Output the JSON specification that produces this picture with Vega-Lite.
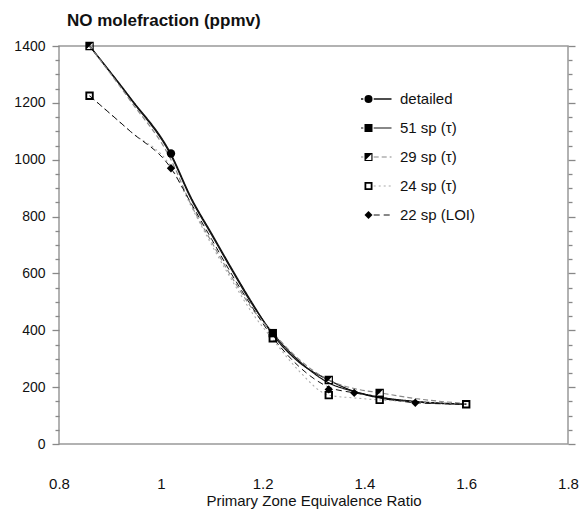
{
  "$schema": "https://vega.github.io/schema/vega-lite/v6.json",
  "width": 509,
  "height": 398,
  "autosize": "none",
  "padding": {"left": 59, "top": 46, "right": 14, "bottom": 66},
  "background": "white",
  "config": {
    "font": "Liberation Sans",
    "view": {"stroke": "#999", "strokeWidth": 1.5},
    "axis": {"domain": false, "grid": false}
  },
  "title": {"text": "NO molefraction (ppmv)", "anchor": "start", "frame": "group", "dx": 8, "offset": 9, "fontSize": 17, "fontWeight": "bold", "font": "Liberation Sans", "color": "#111"},
  "datasets": {
    "curves": [
      {"series": "detailed", "phi": 0.86, "no": 1400},
      {"series": "detailed", "phi": 0.94, "no": 1218},
      {"series": "detailed", "phi": 1.02, "no": 1020},
      {"series": "detailed", "phi": 1.06, "no": 865},
      {"series": "detailed", "phi": 1.10, "no": 740},
      {"series": "detailed", "phi": 1.14, "no": 615},
      {"series": "detailed", "phi": 1.18, "no": 495},
      {"series": "detailed", "phi": 1.22, "no": 385},
      {"series": "detailed", "phi": 1.27, "no": 290},
      {"series": "detailed", "phi": 1.33, "no": 225},
      {"series": "detailed", "phi": 1.38, "no": 185},
      {"series": "detailed", "phi": 1.43, "no": 162},
      {"series": "detailed", "phi": 1.5, "no": 148},
      {"series": "detailed", "phi": 1.6, "no": 140},
      {"series": "51 sp (τ)", "phi": 0.86, "no": 1400},
      {"series": "51 sp (τ)", "phi": 0.94, "no": 1215},
      {"series": "51 sp (τ)", "phi": 1.02, "no": 1015},
      {"series": "51 sp (τ)", "phi": 1.06, "no": 860},
      {"series": "51 sp (τ)", "phi": 1.10, "no": 735},
      {"series": "51 sp (τ)", "phi": 1.14, "no": 610},
      {"series": "51 sp (τ)", "phi": 1.18, "no": 490},
      {"series": "51 sp (τ)", "phi": 1.22, "no": 390},
      {"series": "51 sp (τ)", "phi": 1.27, "no": 295},
      {"series": "51 sp (τ)", "phi": 1.33, "no": 215},
      {"series": "51 sp (τ)", "phi": 1.38, "no": 185},
      {"series": "51 sp (τ)", "phi": 1.43, "no": 165},
      {"series": "51 sp (τ)", "phi": 1.5, "no": 150},
      {"series": "51 sp (τ)", "phi": 1.6, "no": 140},
      {"series": "29 sp (τ)", "phi": 0.86, "no": 1400},
      {"series": "29 sp (τ)", "phi": 0.94, "no": 1208},
      {"series": "29 sp (τ)", "phi": 1.02, "no": 1000},
      {"series": "29 sp (τ)", "phi": 1.06, "no": 840},
      {"series": "29 sp (τ)", "phi": 1.10, "no": 710},
      {"series": "29 sp (τ)", "phi": 1.14, "no": 585},
      {"series": "29 sp (τ)", "phi": 1.18, "no": 475},
      {"series": "29 sp (τ)", "phi": 1.22, "no": 392},
      {"series": "29 sp (τ)", "phi": 1.27, "no": 300},
      {"series": "29 sp (τ)", "phi": 1.33, "no": 225},
      {"series": "29 sp (τ)", "phi": 1.38, "no": 195},
      {"series": "29 sp (τ)", "phi": 1.43, "no": 180},
      {"series": "29 sp (τ)", "phi": 1.5, "no": 160},
      {"series": "29 sp (τ)", "phi": 1.6, "no": 142},
      {"series": "24 sp (τ)", "phi": 0.86, "no": 1225},
      {"series": "24 sp (τ)", "phi": 0.94, "no": 1100},
      {"series": "24 sp (τ)", "phi": 1.02, "no": 975},
      {"series": "24 sp (τ)", "phi": 1.06, "no": 835},
      {"series": "24 sp (τ)", "phi": 1.10, "no": 700},
      {"series": "24 sp (τ)", "phi": 1.14, "no": 575},
      {"series": "24 sp (τ)", "phi": 1.18, "no": 460},
      {"series": "24 sp (τ)", "phi": 1.22, "no": 368},
      {"series": "24 sp (τ)", "phi": 1.27, "no": 260},
      {"series": "24 sp (τ)", "phi": 1.33, "no": 172},
      {"series": "24 sp (τ)", "phi": 1.38, "no": 162},
      {"series": "24 sp (τ)", "phi": 1.43, "no": 155},
      {"series": "24 sp (τ)", "phi": 1.5, "no": 148},
      {"series": "24 sp (τ)", "phi": 1.6, "no": 140},
      {"series": "22 sp (LOI)", "phi": 0.86, "no": 1225},
      {"series": "22 sp (LOI)", "phi": 0.94, "no": 1100},
      {"series": "22 sp (LOI)", "phi": 1.02, "no": 970},
      {"series": "22 sp (LOI)", "phi": 1.06, "no": 845},
      {"series": "22 sp (LOI)", "phi": 1.10, "no": 720},
      {"series": "22 sp (LOI)", "phi": 1.14, "no": 595},
      {"series": "22 sp (LOI)", "phi": 1.18, "no": 480},
      {"series": "22 sp (LOI)", "phi": 1.22, "no": 375},
      {"series": "22 sp (LOI)", "phi": 1.27, "no": 275},
      {"series": "22 sp (LOI)", "phi": 1.33, "no": 200},
      {"series": "22 sp (LOI)", "phi": 1.38, "no": 180},
      {"series": "22 sp (LOI)", "phi": 1.43, "no": 165},
      {"series": "22 sp (LOI)", "phi": 1.5, "no": 145},
      {"series": "22 sp (LOI)", "phi": 1.6, "no": 140}
    ],
    "markers": [
      {"series": "detailed", "phi": 1.02, "no": 1022},
      {"series": "22 sp (LOI)", "phi": 1.02, "no": 970},
      {"series": "22 sp (LOI)", "phi": 1.33, "no": 192},
      {"series": "22 sp (LOI)", "phi": 1.38, "no": 180},
      {"series": "22 sp (LOI)", "phi": 1.5, "no": 145},
      {"series": "51 sp (τ)", "phi": 1.22, "no": 390},
      {"series": "29 sp (τ)", "phi": 0.86, "no": 1400},
      {"series": "29 sp (τ)", "phi": 1.33, "no": 225},
      {"series": "29 sp (τ)", "phi": 1.43, "no": 180},
      {"series": "24 sp (τ)", "phi": 0.86, "no": 1225},
      {"series": "24 sp (τ)", "phi": 1.22, "no": 372},
      {"series": "24 sp (τ)", "phi": 1.33, "no": 172},
      {"series": "24 sp (τ)", "phi": 1.43, "no": 155},
      {"series": "24 sp (τ)", "phi": 1.6, "no": 140}
    ]
  },
  "layer": [
    {
      "data": {"name": "curves"},
      "mark": {"type": "line", "interpolate": "monotone"},
      "encoding": {
        "x": {"field": "phi", "type": "quantitative",
          "scale": {"domain": [0.8, 1.8], "nice": false, "zero": false},
          "axis": {"values": [0.8, 1, 1.2, 1.4, 1.6, 1.8], "format": "~g", "ticks": false, "labelPadding": 32, "labelFontSize": 15, "labelColor": "#111", "labelFlush": false,
            "title": "Primary Zone Equivalence Ratio", "titleFontSize": 15, "titleFontWeight": "normal", "titleColor": "#111", "titlePadding": 2}},
        "y": {"field": "no", "type": "quantitative",
          "scale": {"domain": [0, 1400], "nice": false},
          "axis": {"orient": "left", "title": null, "ticks": true, "domain": false, "zindex": 2,
            "values": [0,50,100,150,200,250,300,350,400,450,500,550,600,650,700,750,800,850,900,950,1000,1050,1100,1150,1200,1250,1300,1350,1400],
            "labelExpr": "datum.value % 200 === 0 ? format(datum.value, 'd') : ''",
            "tickSize": 7,
            "tickDash": {"condition": {"test": "datum.value % 200 !== 0", "value": [4, 20]}, "value": [7, 0]},
            "tickColor": "#888", "tickWidth": 1.3, "labelPadding": 7, "labelFontSize": 14, "labelColor": "#111", "labelFlush": false}},
        "color": {"field": "series", "type": "nominal",
          "scale": {"domain": ["detailed", "51 sp (τ)", "29 sp (τ)", "24 sp (τ)", "22 sp (LOI)"], "range": ["#111", "#111", "#888", "#aaa", "#111"]},
          "legend": {"orient": "none", "legendX": 302, "legendY": 46, "title": null, "padding": 0,
            "symbolType": "M-6.25,0H-1.3M1.3,0H5.75", "symbolSize": 64, "labelOffset": 24,
            "labelFontSize": 15, "labelFont": "Liberation Sans", "labelColor": "#111", "rowPadding": 14, "clipHeight": 14}},
        "strokeDash": {"field": "series", "type": "nominal",
          "scale": {"domain": ["detailed", "51 sp (τ)", "29 sp (τ)", "24 sp (τ)", "22 sp (LOI)"], "range": [[1, 0], [1, 0], [5, 3], [2, 3], [6, 4]]}},
        "strokeWidth": {"field": "series", "type": "ordinal",
          "scale": {"domain": ["detailed", "51 sp (τ)", "29 sp (τ)", "24 sp (τ)", "22 sp (LOI)"], "range": [1.3, 1, 1, 1.2, 2]}}
      }
    },
    {
      "data": {"name": "markers"},
      "mark": {"type": "point", "filled": true, "strokeWidth": 0, "size": 70, "opacity": 1},
      "encoding": {
        "x": {"field": "phi", "type": "quantitative"},
        "y": {"field": "no", "type": "quantitative",
          "axis": {"orient": "right", "title": null, "labels": false, "domain": false, "ticks": true, "zindex": 2,
            "values": [0,50,100,150,200,250,300,350,400,450,500,550,600,650,700,750,800,850,900,950,1000,1050,1100,1150,1200,1250,1300,1350,1400],
            "tickSize": 7,
            "tickDash": {"condition": {"test": "datum.value % 200 !== 0", "value": [4, 20]}, "value": [7, 0]},
            "tickColor": "#888", "tickWidth": 1.3}},
        "color": {"value": "black"},
        "shape": {"field": "series", "type": "nominal",
          "sort": ["detailed", "51 sp (τ)", "29 sp (τ)", "24 sp (τ)", "22 sp (LOI)"],
          "scale": {"range": ["circle", "square", "M-1,-1H1L-1,1Z M0.72,-1H1V1H0.72Z M-1,0.72H1V1H-1Z", "M-1,-1H1V1H-1Z M-0.55,-0.55V0.55H0.55V-0.55Z", "diamond"]},
          "legend": {"orient": "none", "legendX": 302, "legendY": 46, "title": null, "padding": 0,
            "symbolSize": 64, "labelOffset": 24, "labelFontSize": 15, "labelOpacity": 0,
            "symbolFillColor": "black", "symbolStrokeWidth": 0, "rowPadding": 14, "clipHeight": 14}}
      }
    }
  ],
  "resolve": {"axis": {"y": "independent"}}
}
